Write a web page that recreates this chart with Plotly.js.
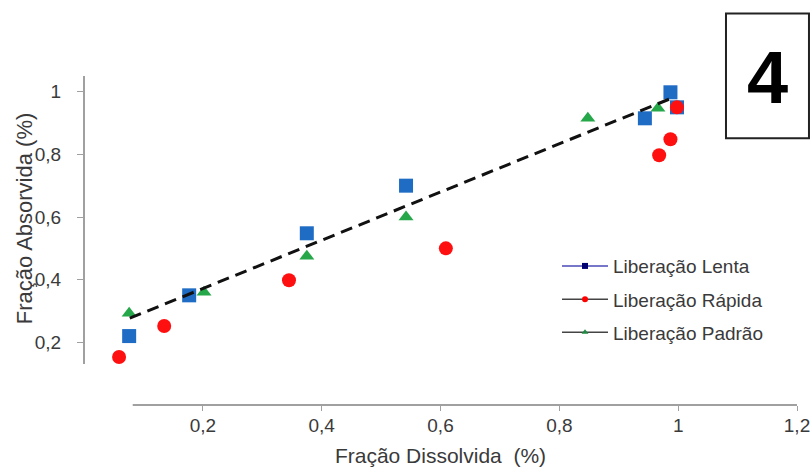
<!DOCTYPE html>
<html>
<head>
<meta charset="utf-8">
<script src="https://cdn.plot.ly/plotly-3.0.1.min.js"></script>
<style>html,body{margin:0;padding:0;background:#fff;}#chart{width:812px;height:474px;}</style>
</head>
<body>
<div id="chart"></div>
<script>
// Data
const seriesNames = ['Liberação Lenta', 'Liberação Rápida', 'Liberação Padrão'];
const xLenta = [0.076, 0.177, 0.375, 0.542, 0.944, 0.987, 0.998];
const yLenta = [0.22, 0.35, 0.548, 0.70, 0.915, 0.998, 0.95];
const xRapida = [0.059, 0.135, 0.345, 0.609, 0.968, 0.987, 0.998];
const yRapida = [0.153, 0.252, 0.398, 0.50, 0.797, 0.848, 0.95];
const xPadrao = [0.076, 0.202, 0.375, 0.542, 0.848, 0.966];
const yPadrao = [0.293, 0.36, 0.475, 0.60, 0.915, 0.947];
const trendX = [0.077, 0.99];
const trendY = [0.277, 0.980];
const xTicks = [0.2, 0.4, 0.6, 0.8, 1, 1.2];
const yTicks = [0.2, 0.4, 0.6, 0.8, 1];
const xTitle = 'Fração Dissolvida\u00a0 (%)';
const yTitle = 'Fração Absorvida (%)';
const panelLabel = '4';

const font = 'Liberation Sans, Arial, sans-serif';
const txt = '#3a3a3a';
const axisGray = '#a0a0a0';

const traces = [
  {x: xLenta, y: yLenta, mode: 'markers', type: 'scatter', showlegend: false, cliponaxis: false,
   marker: {symbol: 'square', size: 14, color: '#1f6cc4'}},
  {x: xPadrao, y: yPadrao, mode: 'markers', type: 'scatter', showlegend: false, cliponaxis: false,
   marker: {symbol: 'triangle-up', size: 13, color: '#26a74a'}},
  {x: xRapida, y: yRapida, mode: 'markers', type: 'scatter', showlegend: false, cliponaxis: false,
   marker: {symbol: 'circle', size: 14, color: '#ff1010'}},
  {x: trendX, y: trendY, mode: 'lines', type: 'scatter', showlegend: false,
   line: {color: '#111', width: 3, dash: '12px,7px'}},
  // legend-only entries (styled as in the reference legend)
  {x: [null], y: [null], mode: 'lines+markers', name: seriesNames[0], legendgroup: 'a',
   line: {color: '#4a4ab8', width: 1.5}, marker: {symbol: 'square', size: 6, color: '#000070'}},
  {x: [null], y: [null], mode: 'lines+markers', name: seriesNames[1], legendgroup: 'b',
   line: {color: '#444', width: 1.5}, marker: {symbol: 'circle', size: 6, color: '#ff0000'}},
  {x: [null], y: [null], mode: 'lines+markers', name: seriesNames[2], legendgroup: 'c',
   line: {color: '#444', width: 1.5}, marker: {symbol: 'triangle-up', size: 6, color: '#1f8a40'}}
];

const layout = {
  width: 812, height: 474,
  margin: {l: 84, r: 15, t: 75.6, b: 69},
  paper_bgcolor: '#fff', plot_bgcolor: '#fff',
  separators: ',.',
  font: {family: font, color: txt, size: 19},
  showlegend: true,
  legend: {x: 0.6634, y: 0.48, xanchor: 'left', yanchor: 'top', bgcolor: 'rgba(0,0,0,0)',
           itemwidth: 46, font: {family: font, size: 19, color: txt},
           traceorder: 'grouped', tracegroupgap: 5.5},
  xaxis: {range: [0, 1.2], tickvals: xTicks, showgrid: false, zeroline: false, showline: false,
          ticks: 'outside', ticklen: 5, tickcolor: axisGray, tickwidth: 1, ticklabelstandoff: -2,
          tickfont: {family: font, size: 19, color: txt},
          title: {text: xTitle, font: {family: font, size: 21, color: txt}, standoff: 13}},
  yaxis: {range: [0, 1.05], tickvals: yTicks, showgrid: false, zeroline: false, showline: false,
          ticks: 'outside', ticklen: 6, tickcolor: axisGray, tickwidth: 1, ticklabelstandoff: 12,
          tickfont: {family: font, size: 19, color: txt}},
  shapes: [
    {type: 'line', xref: 'x', yref: 'paper', x0: 0.082, x1: 1.2, y0: 0, y1: 0,
     line: {color: axisGray, width: 2}},
    {type: 'line', xref: 'paper', yref: 'y', x0: 0, x1: 0, y0: 0.131, y1: 1.05,
     line: {color: axisGray, width: 2}},
    {type: 'rect', xref: 'paper', yref: 'paper', x0: 0.9004, x1: 1.0168, y0: 0.8106, y1: 1.19,
     line: {color: '#222', width: 2}, fillcolor: 'rgba(0,0,0,0)'}
  ],
  annotations: [
    {text: yTitle, xref: 'paper', yref: 'paper', x: -0.084, y: 0.568, textangle: -90,
     xanchor: 'center', yanchor: 'middle', showarrow: false,
     font: {family: font, size: 22, color: txt}},
    {text: '<b>' + panelLabel + '</b>', xref: 'paper', yref: 'paper', x: 0.958, y: 0.9957,
     xanchor: 'center', yanchor: 'middle', showarrow: false,
     font: {family: font, size: 74, color: '#000'}}
  ]
};

Plotly.newPlot('chart', traces, layout, {displayModeBar: false, staticPlot: true});
</script>
</body>
</html>
